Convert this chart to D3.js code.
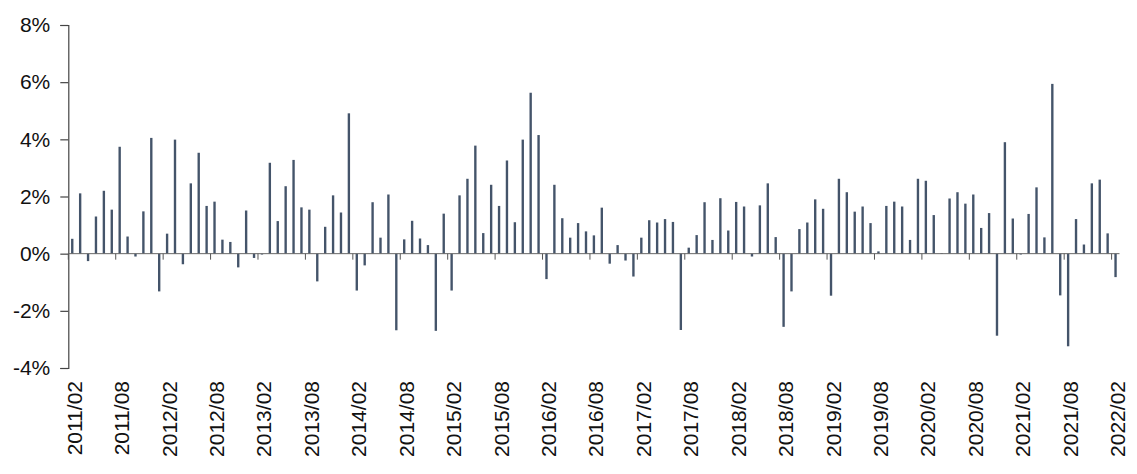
<!DOCTYPE html>
<html>
<head>
<meta charset="utf-8">
<script src="https://cdn.jsdelivr.net/npm/d3@7"></script>
<style>
  html, body { margin: 0; padding: 0; background: #ffffff; }
  svg { display: block; }
  text { font-family: "Liberation Sans", Arial, Helvetica, sans-serif; fill: #111; }
</style>
</head>
<body>
<svg id="chart" width="1137" height="474"></svg>
<script>
// Monthly values (%), 2011/02 .. 2022/02
const startYear = 2011, startMonth = 2;
const values2011_2013 = [
  0.52, 2.11, -0.26, 1.30, 2.20, 1.54, 3.74, 0.60, -0.10, 1.48, 4.05,
  -1.32, 0.70, 3.99, -0.37, 2.46, 3.53, 1.67, 1.82, 0.49, 0.41, -0.48, 1.51,
  -0.15, -0.03, 3.18, 1.14, 2.36, 3.28, 1.62, 1.54, -0.97, 0.94, 2.04, 1.44, 4.91
];
const values2014_2016 = [
  -1.29, -0.41, 1.80, 0.56, 2.07, -2.68, 0.50, 1.15, 0.53, 0.30, -2.70, 1.40,
  -1.29, 2.04, 2.62, 3.78, 0.72, 2.41, 1.67, 3.26, 1.10, 3.99, 5.63, 4.15,
  -0.89, 2.41, 1.24, 0.56, 1.07, 0.78, 0.64, 1.61, -0.35, 0.30, -0.24, -0.80
];
const values2017_2019 = [
  0.56, 1.17, 1.09, 1.21, 1.11, -2.67, 0.21, 0.65, 1.80, 0.48, 1.94, 0.81,
  1.81, 1.65, -0.10, 1.69, 2.46, 0.58, -2.56, -1.32, 0.86, 1.09, 1.90, 1.57,
  -1.47, 2.62, 2.15, 1.47, 1.65, 1.07, 0.08, 1.67, 1.82, 1.65, 0.48, 2.62
];
const values2020_2022 = [
  2.55, 1.35, 0.02, 1.93, 2.15, 1.75, 2.07, 0.90, 1.42, -2.87, 3.90, 1.23,
  -0.03, 1.39, 2.32, 0.57, 5.94, -1.46, -3.24, 1.21, 0.32, 2.46, 2.59, 0.71,
  -0.82
];
const values = [].concat(values2011_2013, values2014_2016, values2017_2019, values2020_2022);

const yTicks = [-4, -2, 0, 2, 4, 6, 8];

// categories
const categories = values.map((v, i) => {
  const m0 = startMonth - 1 + i;
  const yr = startYear + Math.floor(m0 / 12);
  const m = (m0 % 12) + 1;
  return yr + "/" + String(m).padStart(2, "0");
});
const labelCats = categories.filter((c, i) => i % 6 === 0);

const svg = d3.select("#chart");
const plotLeft = 68.3, plotRight = 1119.5, plotTop = 25, plotBottom = 368;

const x = d3.scaleBand().domain(categories).range([plotLeft, plotRight])
  .paddingInner(0.7).paddingOuter(0.35);
const y = d3.scaleLinear().domain([-4, 8]).range([plotBottom, plotTop]);

// Y axis
const yAxis = d3.axisLeft(y).tickValues(yTicks).tickSize(8).tickPadding(10)
  .tickFormat(d => d + "%");
const gy = svg.append("g").attr("transform", `translate(${plotLeft},0)`).call(yAxis);
gy.select(".domain").attr("stroke", "#444").attr("stroke-width", 1.2);
gy.selectAll(".tick line").attr("stroke", "#444").attr("stroke-width", 1.2);
gy.selectAll(".tick text").attr("font-size", 21).attr("fill", "#111")
  .attr("font-family", '"Liberation Sans", Arial, sans-serif');

// Bars
svg.append("g").selectAll("rect").data(values).join("rect")
  .attr("x", (d, i) => x(categories[i]))
  .attr("width", x.bandwidth())
  .attr("y", d => y(Math.max(0, d)))
  .attr("height", d => Math.abs(y(d) - y(0)))
  .attr("fill", "#44546a");

// Zero line
svg.append("line")
  .attr("x1", plotLeft).attr("x2", plotRight)
  .attr("y1", y(0)).attr("y2", y(0))
  .attr("stroke", "#666").attr("stroke-width", 1);

// Tick marks on zero line at left edge of labeled months
const step = x.step();
svg.append("g").selectAll("line").data(labelCats).join("line")
  .attr("x1", d => x(d) - x.paddingOuter() * step)
  .attr("x2", d => x(d) - x.paddingOuter() * step)
  .attr("y1", y(0)).attr("y2", y(0) + 6)
  .attr("stroke", "#555").attr("stroke-width", 1);

// X labels (bottom, rotated)
const xAxis = d3.axisBottom(x).tickValues(labelCats).tickSize(0).tickPadding(0);
const gx = svg.append("g").attr("transform", `translate(0,${plotBottom})`).call(xAxis);
gx.select(".domain").remove();
gx.selectAll(".tick text")
  .attr("font-size", 21).attr("fill", "#111")
  .attr("font-family", '"Liberation Sans", Arial, sans-serif')
  .attr("text-anchor", "end")
  .attr("y", 0).attr("dy", 0)
  .attr("transform", "translate(9.5,13) rotate(-90)");
</script>
</body>
</html>
